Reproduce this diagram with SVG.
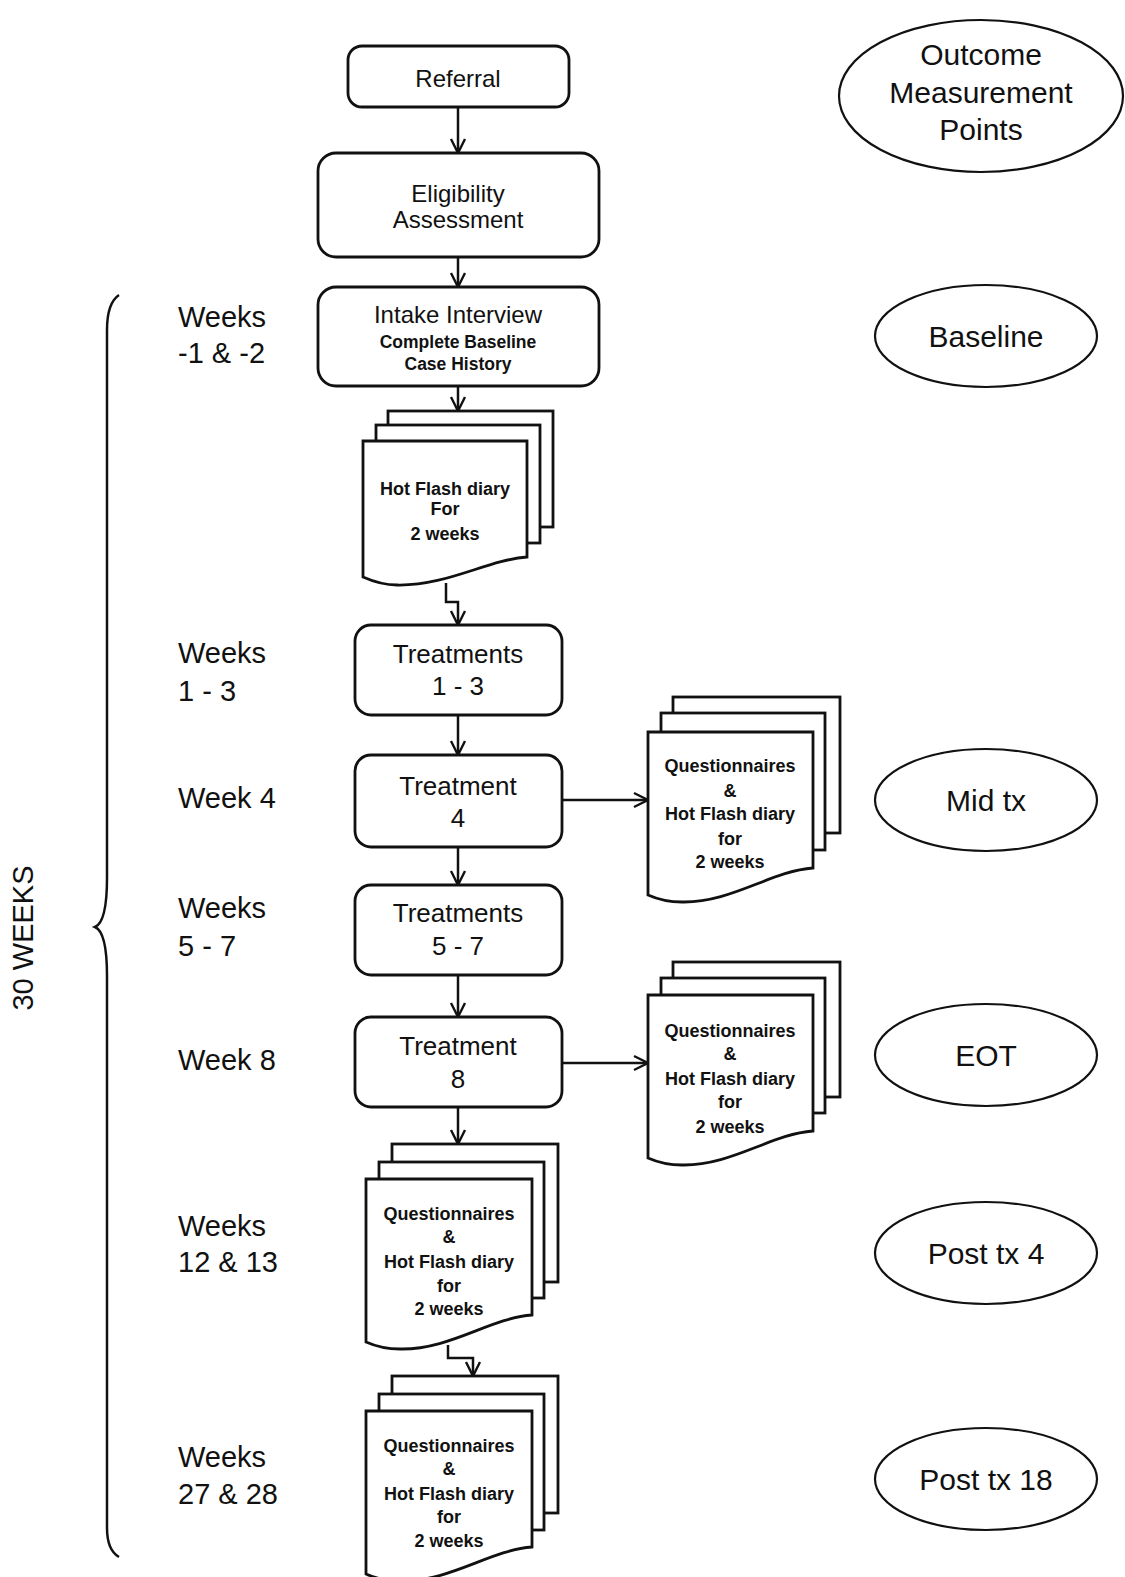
<svg xmlns="http://www.w3.org/2000/svg" width="1125" height="1577" viewBox="0 0 1125 1577">
<style>
text{font-family:"Liberation Sans",Arial,sans-serif;fill:#111;text-anchor:middle}
.box{fill:#fff;stroke:#111;stroke-width:2.8}
.doc{fill:#fff;stroke:#111;stroke-width:2.8;stroke-linejoin:miter}
.ell{fill:#fff;stroke:#111;stroke-width:2.2}
.con{fill:none;stroke:#111;stroke-width:2.5}
.wk{font-size:29px;text-anchor:start}
.bx{font-size:24px}
.tr{font-size:26px}
.dt{font-size:18px;font-weight:bold}
.el{font-size:30px}
</style>
<defs>
<marker id="arr" markerUnits="userSpaceOnUse" markerWidth="20" markerHeight="20" viewBox="-16 -10 20 20" refX="0" refY="0" orient="auto">
<path d="M-14,-7 L0,0 L-14,7" fill="none" stroke="#111" stroke-width="2.4"/>
</marker>
</defs>

<g id="brace">
<path class="con" d="M119,295 Q107,303 107,330 L107,878 Q107,922 95,927 Q107,932 107,976 L107,1528 Q107,1550 119,1557"/>
<text transform="translate(33,938) rotate(-90)" style="font-size:29px">30 WEEKS</text>
</g>

<g id="week-labels">
<text class="wk" x="178" y="327">Weeks</text>
<text class="wk" x="178" y="363">-1 &amp; -2</text>
<text class="wk" x="178" y="663">Weeks</text>
<text class="wk" x="178" y="701">1 - 3</text>
<text class="wk" x="178" y="808">Week 4</text>
<text class="wk" x="178" y="918">Weeks</text>
<text class="wk" x="178" y="956">5 - 7</text>
<text class="wk" x="178" y="1070">Week 8</text>
<text class="wk" x="178" y="1236">Weeks</text>
<text class="wk" x="178" y="1272">12 &amp; 13</text>
<text class="wk" x="178" y="1467">Weeks</text>
<text class="wk" x="178" y="1504">27 &amp; 28</text>
</g>

<g id="connectors">
<path class="con" d="M458,107 V153" marker-end="url(#arr)"/>
<path class="con" d="M458,257 V287" marker-end="url(#arr)"/>
<path class="con" d="M458,386 V411" marker-end="url(#arr)"/>
<path class="con" d="M446,583 V602 H458 V625" marker-end="url(#arr)"/>
<path class="con" d="M458,715 V755" marker-end="url(#arr)"/>
<path class="con" d="M562,800 H648" marker-end="url(#arr)"/>
<path class="con" d="M458,847 V885" marker-end="url(#arr)"/>
<path class="con" d="M458,975 V1017" marker-end="url(#arr)"/>
<path class="con" d="M562,1063 H648" marker-end="url(#arr)"/>
<path class="con" d="M458,1107 V1144" marker-end="url(#arr)"/>
<path class="con" d="M448,1345 V1358 H473 V1376" marker-end="url(#arr)"/>
</g>

<g id="referral">
<rect class="box" x="348" y="46" width="221" height="61" rx="14"/>
<text class="bx" x="458" y="87">Referral</text>
</g>

<g id="eligibility">
<rect class="box" x="318" y="153" width="281" height="104" rx="18"/>
<text class="bx" x="458" y="202">Eligibility</text>
<text class="bx" x="458" y="228">Assessment</text>
</g>

<g id="intake">
<rect class="box" x="318" y="287" width="281" height="99" rx="18"/>
<text class="bx" x="458" y="323">Intake Interview</text>
<text x="458" y="348" style="font-size:17.5px;font-weight:bold">Complete Baseline</text>
<text x="458" y="370" style="font-size:17.5px;font-weight:bold">Case History</text>
</g>

<g id="diary-baseline">
<rect class="doc" x="388" y="411" width="165" height="116"/>
<rect class="doc" x="376" y="425" width="164" height="118"/>
<path class="doc" d="M363,577 V441 H527 V557 C487,560 447,586 397,585 C383,585 372,581 363,577 Z"/>
<text class="dt" x="445" y="495">Hot Flash diary</text>
<text class="dt" x="445" y="515">For</text>
<text class="dt" x="445" y="540">2 weeks</text>
</g>

<g id="treatments-1-3">
<rect class="box" x="355" y="625" width="207" height="90" rx="16"/>
<text class="tr" x="458" y="663">Treatments</text>
<text class="tr" x="458" y="695">1 - 3</text>
</g>

<g id="treatment-4">
<rect class="box" x="355" y="755" width="207" height="92" rx="16"/>
<text class="tr" x="458" y="795">Treatment</text>
<text class="tr" x="458" y="827">4</text>
</g>

<g id="doc-midtx">
<rect class="doc" x="673" y="697" width="167" height="136"/>
<rect class="doc" x="661" y="713" width="164" height="137"/>
<path class="doc" d="M648,895 V732 H813 V868 C771,871 731,903 682,902 C667,902 657,899 648,895 Z"/>
<text class="dt" x="730" y="772">Questionnaires</text>
<text class="dt" x="730" y="797">&amp;</text>
<text class="dt" x="730" y="820">Hot Flash diary</text>
<text class="dt" x="730" y="845">for</text>
<text class="dt" x="730" y="868">2 weeks</text>
</g>

<g id="treatments-5-7">
<rect class="box" x="355" y="885" width="207" height="90" rx="16"/>
<text class="tr" x="458" y="922">Treatments</text>
<text class="tr" x="458" y="955">5 - 7</text>
</g>

<g id="treatment-8">
<rect class="box" x="355" y="1017" width="207" height="90" rx="16"/>
<text class="tr" x="458" y="1055">Treatment</text>
<text class="tr" x="458" y="1088">8</text>
</g>

<g id="doc-eot">
<rect class="doc" x="673" y="962" width="167" height="135"/>
<rect class="doc" x="661" y="978" width="164" height="135"/>
<path class="doc" d="M648,1158 V995 H813 V1131 C771,1134 731,1166 682,1165 C667,1165 657,1162 648,1158 Z"/>
<text class="dt" x="730" y="1037">Questionnaires</text>
<text class="dt" x="730" y="1060">&amp;</text>
<text class="dt" x="730" y="1085">Hot Flash diary</text>
<text class="dt" x="730" y="1108">for</text>
<text class="dt" x="730" y="1133">2 weeks</text>
</g>

<g id="doc-post4">
<rect class="doc" x="392" y="1144" width="166" height="138"/>
<rect class="doc" x="379" y="1162" width="165" height="136"/>
<path class="doc" d="M366,1342 V1179 H532 V1315 C490,1318 450,1350 400,1349 C385,1349 375,1346 366,1342 Z"/>
<text class="dt" x="449" y="1220">Questionnaires</text>
<text class="dt" x="449" y="1243">&amp;</text>
<text class="dt" x="449" y="1268">Hot Flash diary</text>
<text class="dt" x="449" y="1292">for</text>
<text class="dt" x="449" y="1315">2 weeks</text>
</g>

<g id="doc-post18">
<rect class="doc" x="392" y="1376" width="166" height="137"/>
<rect class="doc" x="379" y="1394" width="165" height="136"/>
<path class="doc" d="M366,1574 V1411 H532 V1547 C490,1550 450,1582 400,1581 C385,1581 375,1578 366,1574 Z"/>
<text class="dt" x="449" y="1452">Questionnaires</text>
<text class="dt" x="449" y="1475">&amp;</text>
<text class="dt" x="449" y="1500">Hot Flash diary</text>
<text class="dt" x="449" y="1523">for</text>
<text class="dt" x="449" y="1547">2 weeks</text>
</g>

<g id="outcome-header">
<ellipse class="ell" cx="981" cy="96" rx="142" ry="76"/>
<text class="el" x="981" y="65">Outcome</text>
<text class="el" x="981" y="103">Measurement</text>
<text class="el" x="981" y="140">Points</text>
</g>
<g id="ell-baseline">
<ellipse class="ell" cx="986" cy="336" rx="111" ry="51"/>
<text class="el" x="986" y="347">Baseline</text>
</g>
<g id="ell-midtx">
<ellipse class="ell" cx="986" cy="800" rx="111" ry="51"/>
<text class="el" x="986" y="811">Mid tx</text>
</g>
<g id="ell-eot">
<ellipse class="ell" cx="986" cy="1055" rx="111" ry="51"/>
<text class="el" x="986" y="1066">EOT</text>
</g>
<g id="ell-post4">
<ellipse class="ell" cx="986" cy="1253" rx="111" ry="51"/>
<text class="el" x="986" y="1264">Post tx 4</text>
</g>
<g id="ell-post18">
<ellipse class="ell" cx="986" cy="1479" rx="111" ry="51"/>
<text class="el" x="986" y="1490">Post tx 18</text>
</g>
</svg>
